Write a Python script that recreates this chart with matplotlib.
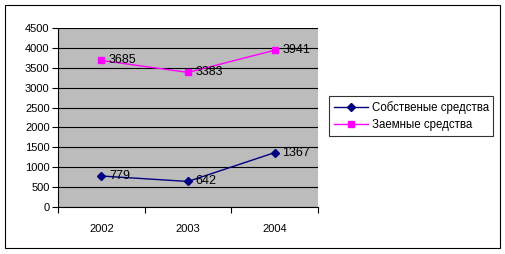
import matplotlib
matplotlib.use("Agg")
import matplotlib.pyplot as plt
from matplotlib.patches import Rectangle

years = ["2002", "2003", "2004"]
own = [779, 642, 1367]
borrowed = [3685, 3383, 3941]
series_names = ["Собственые средства", "Заемные средства"]
yticks = [0, 500, 1000, 1500, 2000, 2500, 3000, 3500, 4000, 4500]

plt.rcParams['font.family'] = ['Liberation Sans', 'DejaVu Sans']
fig = plt.figure(figsize=(5.06, 2.54), dpi=100)
fig.patch.set_facecolor('white')

ax = fig.add_axes([58/506, 1-207/254, 260/506, 179/254])
ax.set_facecolor('#bcbcbc')
x = list(range(len(years)))
ax.plot(x, own, color='#000080', marker='D', markersize=4, lw=1, label=series_names[0], zorder=3)
ax.plot(x, borrowed, color='#FF00FF', marker='s', markersize=4.5, lw=1, label=series_names[1], zorder=3)
for xi, v in zip(x, own):
    ax.annotate(str(v), (xi, v), xytext=(5.5, 0), textcoords='offset points', va='center', ha='left', fontsize=9, color='black', zorder=4)
for xi, v in zip(x, borrowed):
    ax.annotate(str(v), (xi, v), xytext=(5.5, 0), textcoords='offset points', va='center', ha='left', fontsize=9, color='black', zorder=4)

ax.set_xlim(-0.5, 2.5)
ax.set_ylim(0, 4500)
ax.set_yticks(yticks)
ax.set_yticklabels([str(t) for t in yticks], fontsize=8)
ax.yaxis.grid(True, color='black', lw=0.8)
ax.set_axisbelow(True)
ax.set_xticks([-0.5, 0.5, 1.5, 2.5])
ax.set_xticklabels([])
ax.set_xticks(x, minor=True)
ax.set_xticklabels(years, minor=True, fontsize=8)
ax.tick_params(axis='x', which='minor', length=0, pad=12)
ax.tick_params(axis='x', which='major', length=4, direction='out', color='black')
ax.tick_params(axis='y', length=4, direction='out', pad=2)
for s in ['top', 'right']:
    ax.spines[s].set_visible(False)
for s in ['left', 'bottom']:
    ax.spines[s].set_color('black')
    ax.spines[s].set_linewidth(0.8)

leg = ax.legend(loc='upper left', bbox_to_anchor=(329/506, 1-96/254), bbox_transform=fig.transFigure,
                fontsize=8.3, frameon=True, fancybox=False, edgecolor='black', borderpad=0.4,
                handlelength=3, handletextpad=0.3, labelspacing=0.5, borderaxespad=0)
leg.get_frame().set_linewidth(0.8)

fig.patches.append(Rectangle((5/506, 1-248/254), 495/506, 243/254, transform=fig.transFigure,
                             fill=False, edgecolor='black', lw=0.8))
fig.savefig('out.png', dpi=100)
